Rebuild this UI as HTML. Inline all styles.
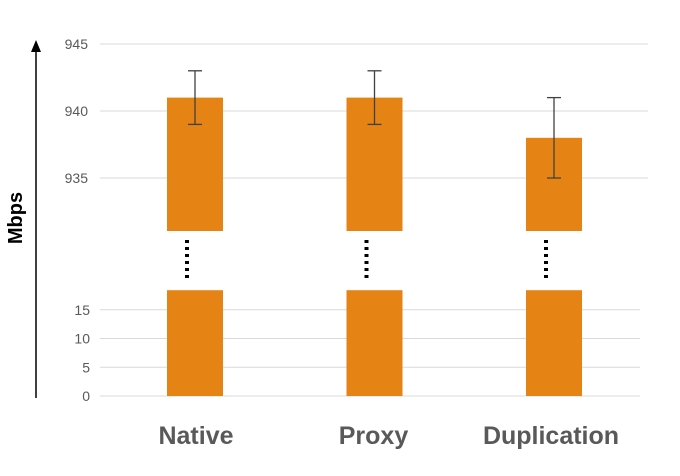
<!DOCTYPE html>
<html><head><meta charset="utf-8"><style>
body{margin:0;background:#fff;width:680px;height:471px;overflow:hidden}
svg{font-family:"Liberation Sans",sans-serif}
</style></head><body>
<svg id="c" width="680" height="471"></svg>
<script>
const categories=["Native","Proxy","Duplication"];
const upperValues=[941,941,938];
const errLow=[939,939,935];
const errHigh=[943,943,941];
const lowerValues=[18.4,18.4,18.4];
const upperTicks=[935,940,945];
const lowerTicks=[0,5,10,15];
const NS="http://www.w3.org/2000/svg";
const svg=document.getElementById('c');
function mk(t,a,p){const e=document.createElementNS(NS,t);for(const k in a)e.setAttribute(k,a[k]);(p||svg).appendChild(e);return e;}
const yU=v=>111+(940-v)*13.4;
const yL=v=>396-v*5.75;
const xC=i=>195+i*179.5;
const bw=56;
upperTicks.forEach(t=>{const l=mk('line',{x1:100,x2:648,y1:yU(t),y2:yU(t),stroke:'#d9d9d9'});
const tx=mk('text',{x:88,y:yU(t)+5,'text-anchor':'end','font-size':14,fill:'#595959'});tx.textContent=t;});
lowerTicks.forEach(t=>{const l=mk('line',{x1:100,x2:640,y1:yL(t),y2:yL(t),stroke:'#d9d9d9'});
const tx=mk('text',{x:90,y:yL(t)+5,'text-anchor':'end','font-size':14,fill:'#595959'});tx.textContent=t;});
categories.forEach((c,i)=>{
const x=xC(i)-bw/2;
const b=mk('rect',{x:x,y:yU(upperValues[i]),width:bw,height:231-yU(upperValues[i]),fill:'#e58314'});
const b2=mk('rect',{x:x,y:yL(lowerValues[i]),width:bw,height:yL(0)-yL(lowerValues[i]),fill:'#e58314'});
const g=mk('g',{stroke:'#404040','stroke-width':1.3});
mk('line',{x1:xC(i),x2:xC(i),y1:yU(errLow[i]),y2:yU(errHigh[i])},g);
mk('line',{x1:xC(i)-7,x2:xC(i)+7,y1:yU(errLow[i]),y2:yU(errLow[i])},g);
mk('line',{x1:xC(i)-7,x2:xC(i)+7,y1:yU(errHigh[i]),y2:yU(errHigh[i])},g);
const d=mk('line',{x1:xC(i)-8,x2:xC(i)-8,y1:240,y2:282,stroke:'#000','stroke-width':4,'stroke-dasharray':'3 4'});
const tx=mk('text',{x:xC(i)+1-i*2,y:444,'text-anchor':'middle','font-size':25,'font-weight':'bold',fill:'#595959'});tx.textContent=c;
});
const ax=mk('line',{x1:36,x2:36,y1:398,y2:50,stroke:'#000','stroke-width':1.5});
const ah=mk('polygon',{points:'31,52 41,52 36,40',fill:'#000'});
const yt=mk('text',{x:22,y:218,'text-anchor':'middle','font-size':20,'font-weight':'bold',fill:'#000',transform:'rotate(-90 22 218)'});yt.textContent='Mbps';
</script>
</body></html>
